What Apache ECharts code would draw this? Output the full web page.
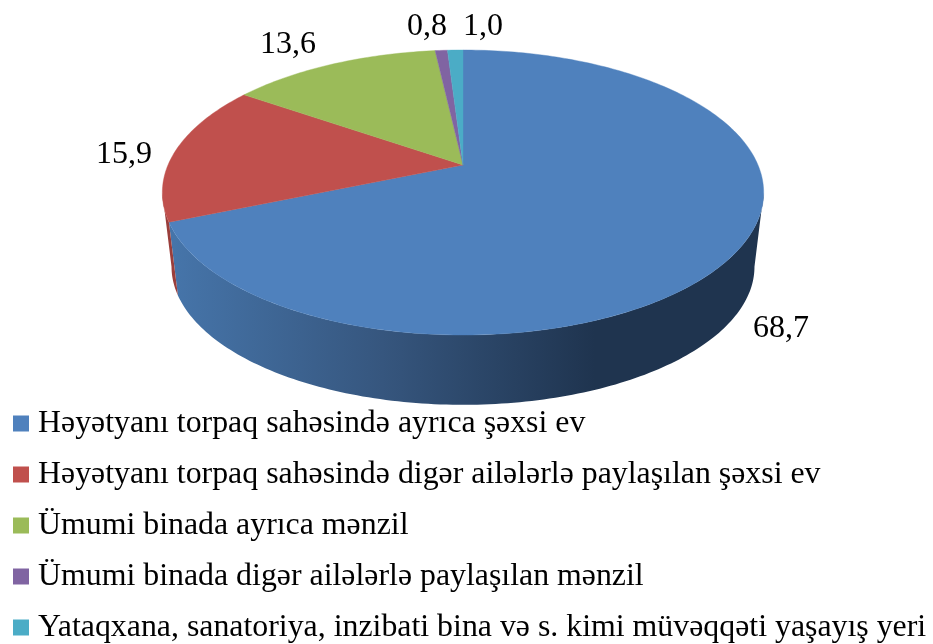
<!DOCTYPE html>
<html><head><meta charset="utf-8">
<style>html,body{margin:0;padding:0;background:#fff}#c{width:933px;height:644px}</style>
<script src="https://cdn.jsdelivr.net/npm/echarts@6/dist/echarts.min.js"></script>
</head><body><div id="c"></div>
<script>
const categories = [
  "Həyətyanı torpaq sahəsində ayrıca şəxsi ev",
  "Həyətyanı torpaq sahəsində digər ailələrlə paylaşılan şəxsi ev",
  "Ümumi binada ayrıca mənzil",
  "Ümumi binada digər ailələrlə paylaşılan mənzil",
  "Yataqxana, sanatoriya, inzibati bina və s. kimi müvəqqəti yaşayış yeri"
];
const values = [68.7, 15.9, 13.6, 0.8, 1.0];
const valueLabels = ["68,7", "15,9", "13,6", "0,8", "1,0"];
const colors = ["#4f81bd", "#c0504d", "#9bbb59", "#8064a2", "#4bacc6"];

// projection of the pie disc onto the page
const TOP = {cx: 463, cy: 165, a: 295, b: 137.2, k: 0.193};
const BASE = {cx: 463, cy: 240, a: 286, b: 133, k: 0.193};
const SIL_A = 90 + Math.asin(TOP.k) * 180 / Math.PI, SIL_B = 360 - SIL_A;
const LABEL_AT = [[781, 329], [124, 155], [288, 45], [427, 27], [483, 27]];
const total = values.reduce((s, v) => s + v, 0);

function proj(p, deg) {
  const t = deg * Math.PI / 180, u = Math.sin(t), v = Math.cos(t), w = 1 + p.k * v;
  return [p.cx + p.a * u / w, p.cy - p.b * v / w];
}
function arc(p, from, to) {
  const out = [], n = Math.max(2, Math.ceil(Math.abs(to - from)));
  for (let i = 0; i <= n; i++) out.push(proj(p, from + (to - from) * i / n));
  return out;
}
function wallFill(i) {
  if (i === 0) return new echarts.graphic.LinearGradient(170, 0, 760, 0, [
    {offset: 0, color: "#4675aa"},
    {offset: 0.36, color: "#36567e"},
    {offset: 0.72, color: "#1f344f"},
    {offset: 1, color: "#1f344f"}
  ], true);
  return "#9a3e3b";
}
function renderSlice(i) {
  return function (params, api) {
    const val = api.value(0);
    let start = 0;
    for (let j = 0; j < i; j++) start += values[j];
    const a0 = start / total * 360, a1 = a0 + val / total * 360;
    const children = [];
    const w0 = Math.max(a0, SIL_A), w1 = Math.min(a1, SIL_B);
    if (w1 > w0) {
      const pts = arc(TOP, w0, w1).concat(arc(BASE, w1, w0));
      children.push({type: "polygon", z2: 1, shape: {points: pts},
        style: {fill: wallFill(i), stroke: null}});
    }
    const top = [[TOP.cx, TOP.cy]].concat(arc(TOP, a0, a1));
    children.push({type: "polygon", z2: 5, shape: {points: top},
      style: {fill: colors[i], stroke: colors[i], lineWidth: 0.4}});
    children.push({type: "text", z2: 10, x: LABEL_AT[i][0], y: LABEL_AT[i][1],
      style: {text: valueLabels[i], fill: "#000", align: "center", verticalAlign: "middle",
        font: "32px 'Liberation Serif'"}});
    return {type: "group", children};
  };
}
const series = categories.map((name, i) => ({
  type: "custom", name, coordinateSystem: "none", silent: true, animation: false,
  itemStyle: {color: colors[i]},
  data: [[values[i]]],
  renderItem: renderSlice(i)
}));
const chart = echarts.init(document.getElementById("c"), null, {renderer: "canvas"});
chart.setOption({
  animation: false,
  backgroundColor: "#fff",
  legend: {
    data: categories, orient: "vertical", left: 13, top: 407.5, padding: 0,
    selectedMode: false, icon: "rect", itemWidth: 16, itemHeight: 16, itemGap: 19, itemStyle: {borderWidth: 0},
    textStyle: {color: "#000", fontFamily: "Liberation Serif", fontSize: 31.85, padding: [0, 0, 0, 4], lineHeight: 32}
  },
  series
});
</script></body></html>
